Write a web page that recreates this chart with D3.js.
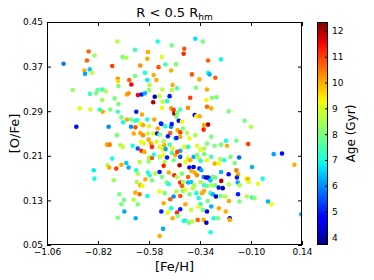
<!DOCTYPE html>
<html>
<head>
<meta charset="utf-8">
<script src="https://cdn.jsdelivr.net/npm/d3@7"></script>
<style>
  body { margin: 0; background: #fff; }
  text { font-family: "DejaVu Sans", sans-serif; fill: #000; }
</style>
</head>
<body>
<script>
var w = 374;
var h = 280;
var plotL = 47, plotR = 302, plotT = 22, plotB = 245;

var xTicks = [-1.06, -0.82, -0.58, -0.34, -0.10, 0.14];
var yTicks = [0.05, 0.13, 0.21, 0.29, 0.37, 0.45];
var ageTicks = [4, 5, 6, 7, 8, 9, 10, 11, 12];

// [Fe/H]
var feh = [
  -0.539,-0.362,-0.327,-0.729,-0.473,-0.414,-0.417,-0.646,-0.585,-0.864,
  -0.836,-0.705,-0.687,-0.520,-0.588,-0.872,-0.302,-0.241,-0.982,-0.503,
  -0.453,-0.753,-0.621,-0.535,-0.884,-0.859,-0.881,-0.848,-0.476,-0.599,
  -0.558,-0.378,-0.302,-0.295,-0.268,-0.343,-0.727,-0.726,-0.673,-0.588,
  -0.545,-0.646,-0.469,-0.663,-0.578,-0.724,-0.939,-0.858,-0.829,-0.822,
  -0.800,-0.784,-0.684,-0.676,-0.632,-0.615,-0.599,-0.580,-0.553,-0.560,
  -0.530,-0.517,-0.483,-0.472,-0.448,-0.359,-0.307,-0.386,-0.800,-0.742,
  -0.495,-0.517,-0.310,-0.284,-0.263,-0.724,-0.906,-0.856,-0.812,-0.798,
  -0.762,-0.727,-0.640,-0.613,-0.519,-0.475,-0.464,-0.461,-0.448,-0.433,
  -0.451,-0.440,-0.396,-0.365,-0.357,-0.342,-0.307,-0.287,-0.205,-0.710,
  -0.684,-0.665,-0.646,-0.637,-0.588,-0.555,-0.524,-0.922,-0.770,-0.702,
  -0.665,-0.644,-0.621,-0.608,-0.580,-0.539,-0.522,-0.503,-0.476,-0.473,
  -0.425,-0.445,-0.433,-0.420,-0.401,-0.480,-0.321,-0.323,-0.302,-0.130,
  -0.100,-0.731,-0.652,-0.621,-0.608,-0.586,-0.560,-0.542,-0.530,-0.491,
  -0.456,-0.433,-0.389,-0.362,-0.287,-0.218,-0.778,-0.765,-0.715,-0.704,
  -0.657,-0.633,-0.616,-0.605,-0.582,-0.571,-0.566,-0.545,-0.530,-0.511,
  -0.508,-0.514,-0.502,-0.483,-0.470,-0.451,-0.433,-0.414,-0.396,-0.354,
  -0.338,-0.320,-0.307,-0.271,-0.241,-0.213,-0.169,-0.113,0.007,0.046,
  -0.616,-0.602,-0.753,-0.775,-0.767,-0.734,-0.710,-0.687,-0.676,-0.624,
  -0.580,-0.582,-0.566,-0.558,-0.530,-0.514,-0.495,-0.506,-0.511,-0.472,
  -0.456,-0.447,-0.433,-0.464,-0.436,-0.409,-0.398,-0.386,-0.370,-0.354,
  -0.345,-0.337,-0.320,-0.307,-0.287,-0.271,-0.252,-0.244,-0.226,-0.197,
  -0.156,-0.177,-0.095,0.104,-0.840,-0.837,-0.746,-0.640,-0.633,-0.585,
  -0.577,-0.550,-0.530,-0.519,-0.487,-0.461,-0.448,-0.425,-0.396,-0.390,
  -0.381,-0.370,-0.365,-0.354,-0.343,-0.334,-0.323,-0.312,-0.302,-0.296,
  -0.291,-0.280,-0.268,-0.241,-0.240,-0.205,-0.169,-0.161,-0.166,-0.163,
  -0.122,-0.114,-0.111,-0.045,-0.067,-0.204,-0.153,-0.637,-0.621,-0.611,
  -0.597,-0.566,-0.497,-0.487,-0.433,-0.420,-0.425,-0.396,-0.382,-0.367,
  -0.338,-0.320,-0.307,-0.285,-0.268,-0.252,-0.233,-0.720,-0.644,-0.624,
  -0.588,-0.530,-0.506,-0.480,-0.464,-0.451,-0.433,-0.420,-0.409,-0.389,
  -0.373,-0.357,-0.346,-0.331,-0.321,-0.304,-0.291,-0.280,-0.265,-0.244,
  -0.221,-0.204,-0.161,-0.155,-0.119,-0.095,-0.083,-0.020,-0.004,-0.698,
  -0.652,-0.633,-0.710,-0.511,-0.409,-0.338,-0.696,-0.727,-0.643,-0.522,
  -0.492,-0.476,-0.448,-0.433,-0.382,-0.346,-0.326,-0.307,-0.287,-0.251,
  -0.219,-0.469,-0.445,-0.417,-0.409,-0.392,-0.378,-0.351,-0.323,-0.310,
  -0.276,-0.255,-0.200,-0.200,0.137,-0.514,-0.290,-0.530
];

// [O/Fe]
var ofe = [
  0.415,0.420,0.415,0.415,0.408,0.402,0.393,0.400,0.396,0.397,
  0.390,0.387,0.386,0.387,0.384,0.381,0.381,0.383,0.375,0.374,
  0.374,0.371,0.372,0.369,0.363,0.365,0.357,0.359,0.363,0.359,
  0.355,0.356,0.359,0.356,0.350,0.347,0.348,0.344,0.346,0.346,
  0.346,0.353,0.337,0.338,0.337,0.335,0.328,0.321,0.322,0.328,
  0.329,0.326,0.320,0.322,0.319,0.320,0.322,0.328,0.316,0.306,
  0.317,0.329,0.317,0.328,0.331,0.332,0.329,0.314,0.310,0.313,
  0.308,0.307,0.310,0.314,0.315,0.303,0.295,0.293,0.293,0.289,
  0.293,0.289,0.289,0.284,0.296,0.295,0.292,0.286,0.287,0.293,
  0.280,0.273,0.296,0.283,0.281,0.281,0.298,0.295,0.290,0.279,
  0.275,0.275,0.273,0.274,0.275,0.275,0.268,0.262,0.262,0.270,
  0.262,0.261,0.268,0.265,0.263,0.259,0.267,0.263,0.262,0.267,
  0.271,0.256,0.252,0.259,0.251,0.251,0.265,0.257,0.266,0.273,
  0.262,0.247,0.250,0.251,0.247,0.250,0.250,0.250,0.248,0.245,
  0.241,0.244,0.241,0.247,0.244,0.237,0.230,0.230,0.229,0.226,
  0.228,0.223,0.235,0.232,0.239,0.232,0.226,0.235,0.226,0.236,
  0.229,0.221,0.222,0.230,0.223,0.242,0.219,0.226,0.226,0.228,
  0.221,0.223,0.232,0.228,0.230,0.228,0.237,0.231,0.213,0.214,
  0.219,0.217,0.205,0.193,0.189,0.187,0.194,0.197,0.189,0.199,
  0.207,0.200,0.206,0.212,0.208,0.211,0.207,0.199,0.192,0.215,
  0.211,0.217,0.208,0.202,0.193,0.199,0.205,0.202,0.208,0.211,
  0.205,0.201,0.213,0.202,0.208,0.196,0.196,0.204,0.202,0.208,
  0.207,0.197,0.190,0.194,0.184,0.169,0.166,0.184,0.178,0.180,
  0.175,0.178,0.181,0.172,0.180,0.175,0.172,0.178,0.172,0.189,
  0.183,0.190,0.180,0.175,0.187,0.184,0.172,0.171,0.171,0.169,
  0.166,0.172,0.171,0.181,0.165,0.177,0.184,0.177,0.171,0.162,
  0.169,0.168,0.163,0.169,0.160,0.159,0.157,0.163,0.157,0.156,
  0.168,0.166,0.162,0.159,0.162,0.163,0.156,0.162,0.163,0.157,
  0.163,0.157,0.156,0.157,0.157,0.153,0.152,0.141,0.144,0.141,
  0.138,0.146,0.143,0.132,0.137,0.146,0.138,0.147,0.149,0.141,
  0.152,0.143,0.134,0.143,0.147,0.129,0.143,0.141,0.137,0.138,
  0.137,0.129,0.141,0.128,0.137,0.135,0.134,0.128,0.123,0.131,
  0.131,0.123,0.123,0.125,0.123,0.123,0.110,0.099,0.098,0.110,
  0.108,0.116,0.108,0.114,0.113,0.119,0.113,0.110,0.119,0.116,
  0.110,0.098,0.102,0.093,0.094,0.090,0.092,0.095,0.095,0.090,
  0.098,0.098,0.098,0.095,0.105,0.079,0.073,0.066
];

// Age (Gyr)
var age = [
  7,6.7,8,8.6,8,10.8,11.2,7.5,10,10.6,
  8.3,8,8.6,9,10,10.7,10.7,6.9,5.8,7.5,
  8,11,10.3,10.8,10,6.5,6.2,8.6,10,7,
  10,10.8,7,6.3,10.7,10,10.2,9.6,10.7,6.8,
  10,8,10,11.5,8.6,8,8.3,7.3,8,7.8,
  7.2,8.6,10,10.2,11.5,5,6.3,8.3,4.2,12,
  8.8,8.6,5,8.6,7.6,8,10,11,8.4,8,
  7,8.7,9.3,8.2,8,8,9,9,7,10,
  8,7.4,5,10,9.2,10.2,11,12,8,7.5,
  8,4.8,10.3,4.8,9.2,10,10.6,10,8,8,
  10,8,7.3,7,7,10,5,4.5,6,7,
  6,10.8,9.2,10,9,10,5,7,6,5,
  9.2,10,11,8,8.6,10.7,10,11.3,12,8,
  8.6,8,10,10,10.3,8.6,9.2,5,8,5,
  6.8,10,9.2,8.5,8,7,10,10.5,8.5,8.8,
  7,5.5,9.2,9,10,10,11.2,9,9,8.5,
  10,9.2,6.2,7.5,9,5,6.3,9.2,7,9,
  9.2,8.5,8,8,8,10,8,11,6.2,4.7,
  11.2,10,7,8.5,10,11,10,6.5,6.3,8.6,
  8.6,8.2,10.8,7,8.6,9.2,5,8.6,11.3,7.4,
  10,11,5.5,8,12,9.2,9,10,6.3,8,
  9,7,8,9.2,7.5,10,9.2,8.6,7,8,
  5.6,8,6.3,10,6.8,7,8.3,7,8.6,7,
  7.2,8.6,5,8,10,11.2,8.6,8,10.7,4.8,
  10,4.8,10,10.3,5,6.2,6,4.8,4,5,
  6.5,8,7.8,6.3,12,4.8,10.5,10,5,6.2,
  9.2,10,9,7,9.2,8.6,8.6,8.6,10,9.2,
  10,8,8,7,11.3,8.6,10.7,6.3,6.5,8.6,
  8.6,7,7.8,8.6,8,5,4,8,10,10.6,
  7,9.2,8,10.7,6,8.6,10.8,8,9.2,8,
  8.6,7,7,10,10,8,7.5,6.3,4.2,8,
  8.6,10,5,8,8.6,7,8.3,6.3,9.2,8,
  8.6,8,8,10,10,7,6.2,8,6.3,5,
  9.2,7,11.2,5,8.8,9.2,8,4.8,6.3,10,
  10,10,8,7,7,8,8.6,10.7,10,4.2,
  7,8,4.2,10,6.2,6.2,7,10
];

var ageMin = 3.7, ageMax = 12.35;

// matplotlib "jet"
var chan = stops => d3.scaleLinear()
    .domain(stops.map(s => s[0]))
    .range(stops.map(s => s[1]))
    .clamp(true);
var jr = chan([[0, 0], [0.35, 0], [0.66, 1], [0.89, 1], [1, 0.5]]);
var jg = chan([[0, 0], [0.125, 0], [0.375, 1], [0.64, 1], [0.91, 0], [1, 0]]);
var jb = chan([[0, 0.5], [0.11, 1], [0.34, 1], [0.65, 0], [1, 0]]);
var jet = t => d3.rgb(jr(t) * 255, jg(t) * 255, jb(t) * 255).formatHex();

var ageNorm = d3.scaleLinear().domain([ageMin, ageMax]).range([0, 1]).clamp(true);

var dataset = feh.map((d, i) => ({ feh: d, ofe: ofe[i], age: age[i] }));

var xScale = d3.scaleLinear().domain([-1.06, 0.14]).range([plotL, plotR]);
var yScale = d3.scaleLinear().domain([0.05, 0.45]).range([plotB, plotT]);

var svg = d3.select("body")
    .append("svg")
    .attr("width", w)
    .attr("height", h);

var defs = svg.append("defs");
defs.append("clipPath")
    .attr("id", "plot")
    .append("rect")
    .attr("x", plotL).attr("y", plotT)
    .attr("width", plotR - plotL).attr("height", plotB - plotT);

svg.append("g")
    .attr("clip-path", "url(#plot)")
    .selectAll("circle")
    .data(dataset)
    .enter()
    .append("circle")
    .attr("cx", d => xScale(d.feh))
    .attr("cy", d => yScale(d.ofe))
    .attr("r", 2.3)
    .attr("fill", d => jet(ageNorm(d.age)));

var fmt = d3.format(".2f");

var xAxis = d3.axisBottom(xScale).tickValues(xTicks).tickFormat(fmt).tickSize(-4).tickPadding(4);
var yAxis = d3.axisLeft(yScale).tickValues(yTicks).tickFormat(fmt).tickSize(-4).tickPadding(4);
var xTop = d3.axisTop(xScale).tickValues(xTicks).tickFormat("").tickSize(-4);
var yRight = d3.axisRight(yScale).tickValues(yTicks).tickFormat("").tickSize(-4);

function style(g) {
    g.select(".domain").remove();
    g.selectAll("line").attr("stroke", "#000");
    g.selectAll("text").attr("font-size", 9).attr("font-family", "DejaVu Sans");
}

svg.append("g").attr("transform", `translate(0,${plotB})`).call(xAxis).call(style);
svg.append("g").attr("transform", `translate(${plotL},0)`).call(yAxis).call(style);
svg.append("g").attr("transform", `translate(0,${plotT})`).call(xTop).call(style);
svg.append("g").attr("transform", `translate(${plotR},0)`).call(yRight).call(style);

svg.append("rect")
    .attr("x", plotL + 0.5).attr("y", plotT + 0.5)
    .attr("width", plotR - plotL - 1).attr("height", plotB - plotT - 1)
    .attr("fill", "none")
    .attr("stroke", "#000")
    .attr("stroke-width", 1);

// title
var title = svg.append("text")
    .attr("x", (plotL + plotR) / 2)
    .attr("y", 17)
    .attr("text-anchor", "middle")
    .attr("font-size", 13);
title.append("tspan").text("R < 0.5 R");
title.append("tspan").attr("font-size", 9).attr("dy", 3).text("hm");

svg.append("text")
    .attr("x", (plotL + plotR) / 2)
    .attr("y", 271)
    .attr("text-anchor", "middle")
    .attr("font-size", 13)
    .text("[Fe/H]");

svg.append("text")
    .attr("transform", `translate(19,${(plotT + plotB) / 2}) rotate(-90)`)
    .attr("text-anchor", "middle")
    .attr("font-size", 13)
    .text("[O/Fe]");

// colorbar
var cbX = 317, cbW = 11;
var cScale = d3.scaleLinear().domain([ageMin, ageMax]).range([plotB, plotT]);

var grad = defs.append("linearGradient")
    .attr("id", "jetgrad")
    .attr("x1", 0).attr("y1", 1).attr("x2", 0).attr("y2", 0);
grad.selectAll("stop")
    .data(d3.range(0, 1.0001, 0.02))
    .enter()
    .append("stop")
    .attr("offset", d => d)
    .attr("stop-color", d => jet(d));

svg.append("rect")
    .attr("x", cbX).attr("y", plotT)
    .attr("width", cbW).attr("height", plotB - plotT)
    .attr("fill", "url(#jetgrad)");

var cAxis = d3.axisRight(cScale).tickValues(ageTicks).tickFormat(d3.format("d")).tickSize(-3).tickPadding(4);
svg.append("g").attr("transform", `translate(${cbX + cbW},0)`).call(cAxis).call(style);

svg.append("rect")
    .attr("x", cbX + 0.5).attr("y", plotT + 0.5)
    .attr("width", cbW - 1).attr("height", plotB - plotT - 1)
    .attr("fill", "none")
    .attr("stroke", "#000")
    .attr("stroke-width", 1);

svg.append("text")
    .attr("transform", `translate(355,${(plotT + plotB) / 2}) rotate(-90)`)
    .attr("text-anchor", "middle")
    .attr("font-size", 12)
    .text("Age (Gyr)");
</script>
</body>
</html>
